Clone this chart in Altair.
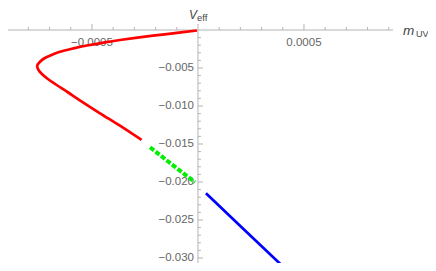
import altair as alt
import pandas as pd

# ---- data ----
red_m = [-0.0000047, -0.000118, -0.000212, -0.000368, -0.000439, -0.000524, -0.000582,
         -0.000651, -0.00069, -0.000726, -0.000745, -0.000757, -0.000758, -0.000752,
         -0.000736, -0.000708, -0.00067, -0.000612, -0.000557, -0.000462, -0.000368, -0.000266]
red_v = [-0.0000658, -0.000434, -0.00075, -0.001316, -0.001618, -0.00204, -0.00238,
         -0.002855, -0.00329, -0.00375, -0.00417, -0.0046, -0.00487, -0.00526,
         -0.00579, -0.006447, -0.007171, -0.008224, -0.00925, -0.01096, -0.01259, -0.01447]
green_m = [-0.000226, -0.00012, -0.0000142]
green_v = [-0.01543, -0.01775, -0.02004]
blue_m = [0.0000377, 0.000222, 0.00041]
blue_v = [-0.02149, -0.02637, -0.03136]

x_minor = [-0.0008, -0.0007, -0.0006, -0.0004, -0.0003, -0.0002, -0.0001,
           0.0001, 0.0002, 0.0003, 0.0004, 0.0006, 0.0007, 0.0008, 0.0009]
x_major = [-0.0005, 0.0005]
x_labels = ["\u22120.0005", "0.0005"]
y_minor = [-0.001, -0.002, -0.003, -0.004, -0.006, -0.007, -0.008, -0.009,
           -0.011, -0.012, -0.013, -0.014, -0.016, -0.017, -0.018, -0.019,
           -0.021, -0.022, -0.023, -0.024, -0.026, -0.027, -0.028, -0.029]
y_major = [-0.005, -0.010, -0.015, -0.020, -0.025, -0.030]
y_labels = ["\u22120.005", "\u22120.010", "\u22120.015", "\u22120.020", "\u22120.025", "\u22120.030"]

X_MIN, X_MAX = -0.000896, 0.00092
Y_MIN, Y_MAX = -0.03066, 0.00079

AXC = "#b4b4b4"
LBC = "#666666"
TTC = "#444444"
FONT = "Liberation Sans"

xs = alt.Scale(domain=[X_MIN, X_MAX], nice=False, zero=False)
ys = alt.Scale(domain=[Y_MIN, Y_MAX], nice=False, zero=False)

one = pd.DataFrame({"k": [0]})


def X(f):
    return alt.X(f, type="quantitative", scale=xs, axis=None)


def Y(f):
    return alt.Y(f, type="quantitative", scale=ys, axis=None)


def XD(v):
    return alt.XDatum(v, scale=xs, axis=None)


def YD(v):
    return alt.YDatum(v, scale=ys, axis=None)


xaxis = alt.Chart(one).mark_rule(color=AXC, strokeWidth=1).encode(
    x=XD(X_MIN), x2=alt.X2Datum(X_MAX), y=YD(0))
yaxis = alt.Chart(one).mark_rule(color=AXC, strokeWidth=1).encode(
    x=XD(0), y=YD(Y_MIN), y2=alt.Y2Datum(Y_MAX))

xmin_t = alt.Chart(pd.DataFrame({"m": x_minor})).mark_rule(
    color=AXC, strokeWidth=1, y2Offset=-3).encode(x=X("m"), y=YD(0), y2=alt.Y2Datum(0))
xmaj_t = alt.Chart(pd.DataFrame({"m": x_major})).mark_rule(
    color=AXC, strokeWidth=1, y2Offset=-6).encode(x=X("m"), y=YD(0), y2=alt.Y2Datum(0))
ymin_t = alt.Chart(pd.DataFrame({"v": y_minor})).mark_rule(
    color=AXC, strokeWidth=1, x2Offset=3).encode(y=Y("v"), x=XD(0), x2=alt.X2Datum(0))
ymaj_t = alt.Chart(pd.DataFrame({"v": y_major})).mark_rule(
    color=AXC, strokeWidth=1, x2Offset=5).encode(y=Y("v"), x=XD(0), x2=alt.X2Datum(0))

xlab = alt.Chart(pd.DataFrame({"m": x_major, "t": x_labels})).mark_text(
    font=FONT, fontSize=11.5, color=LBC, align="center", baseline="alphabetic", dy=16
).encode(x=X("m"), y=YD(0), text="t:N")
ylab = alt.Chart(pd.DataFrame({"v": y_major, "t": y_labels})).mark_text(
    font=FONT, fontSize=11.5, color=LBC, align="right", baseline="middle", dx=-4
).encode(y=Y("v"), x=XD(0), text="t:N")

vlab = alt.Chart(pd.DataFrame({"t": ["V"]})).mark_text(
    font=FONT, fontSize=12, fontStyle="italic", color=TTC, align="right",
    baseline="alphabetic", dx=-1, dy=-5).encode(x=XD(0), y=YD(Y_MAX), text="t:N")
vsub = alt.Chart(pd.DataFrame({"t": ["eff"]})).mark_text(
    font=FONT, fontSize=9.5, color=TTC, align="left",
    baseline="alphabetic", dx=-1, dy=-3).encode(x=XD(0), y=YD(Y_MAX), text="t:N")
mlab = alt.Chart(pd.DataFrame({"t": ["m"]})).mark_text(
    font=FONT, fontSize=13.5, fontStyle="italic", color=TTC, align="left",
    baseline="alphabetic", dx=10, dy=5).encode(x=XD(X_MAX), y=YD(0), text="t:N")
msub = alt.Chart(pd.DataFrame({"t": ["UV"]})).mark_text(
    font=FONT, fontSize=9, color=TTC, align="left",
    baseline="alphabetic", dx=23, dy=7).encode(x=XD(X_MAX), y=YD(0), text="t:N")

red = alt.Chart(pd.DataFrame({"m": red_m, "v": red_v, "i": range(len(red_m))})).mark_line(
    color="#ff0000", strokeWidth=2.7, interpolate="catmull-rom", clip=True
).encode(x=X("m"), y=Y("v"), order="i:Q")
green = alt.Chart(pd.DataFrame({"m": green_m, "v": green_v, "i": range(len(green_m))})).mark_line(
    color="#00ee00", strokeWidth=4, strokeDash=[5, 2], clip=True
).encode(x=X("m"), y=Y("v"), order="i:Q")
blue = alt.Chart(pd.DataFrame({"m": blue_m, "v": blue_v, "i": range(len(blue_m))})).mark_line(
    color="#0000ff", strokeWidth=2.7, clip=True
).encode(x=X("m"), y=Y("v"), order="i:Q")

chart = alt.layer(
    xaxis, yaxis, xmin_t, xmaj_t, ymin_t, ymaj_t, xlab, ylab,
    vlab, vsub, mlab, msub, red, green, blue
).properties(
    width=385, height=239,
    autosize=alt.AutoSizeParams(type="none"),
    padding={"left": 0, "top": 16, "right": 35, "bottom": 0},
    background="white",
).configure_view(stroke=None)

chart.save("out.html", embed_options={"renderer": "svg", "actions": False})
